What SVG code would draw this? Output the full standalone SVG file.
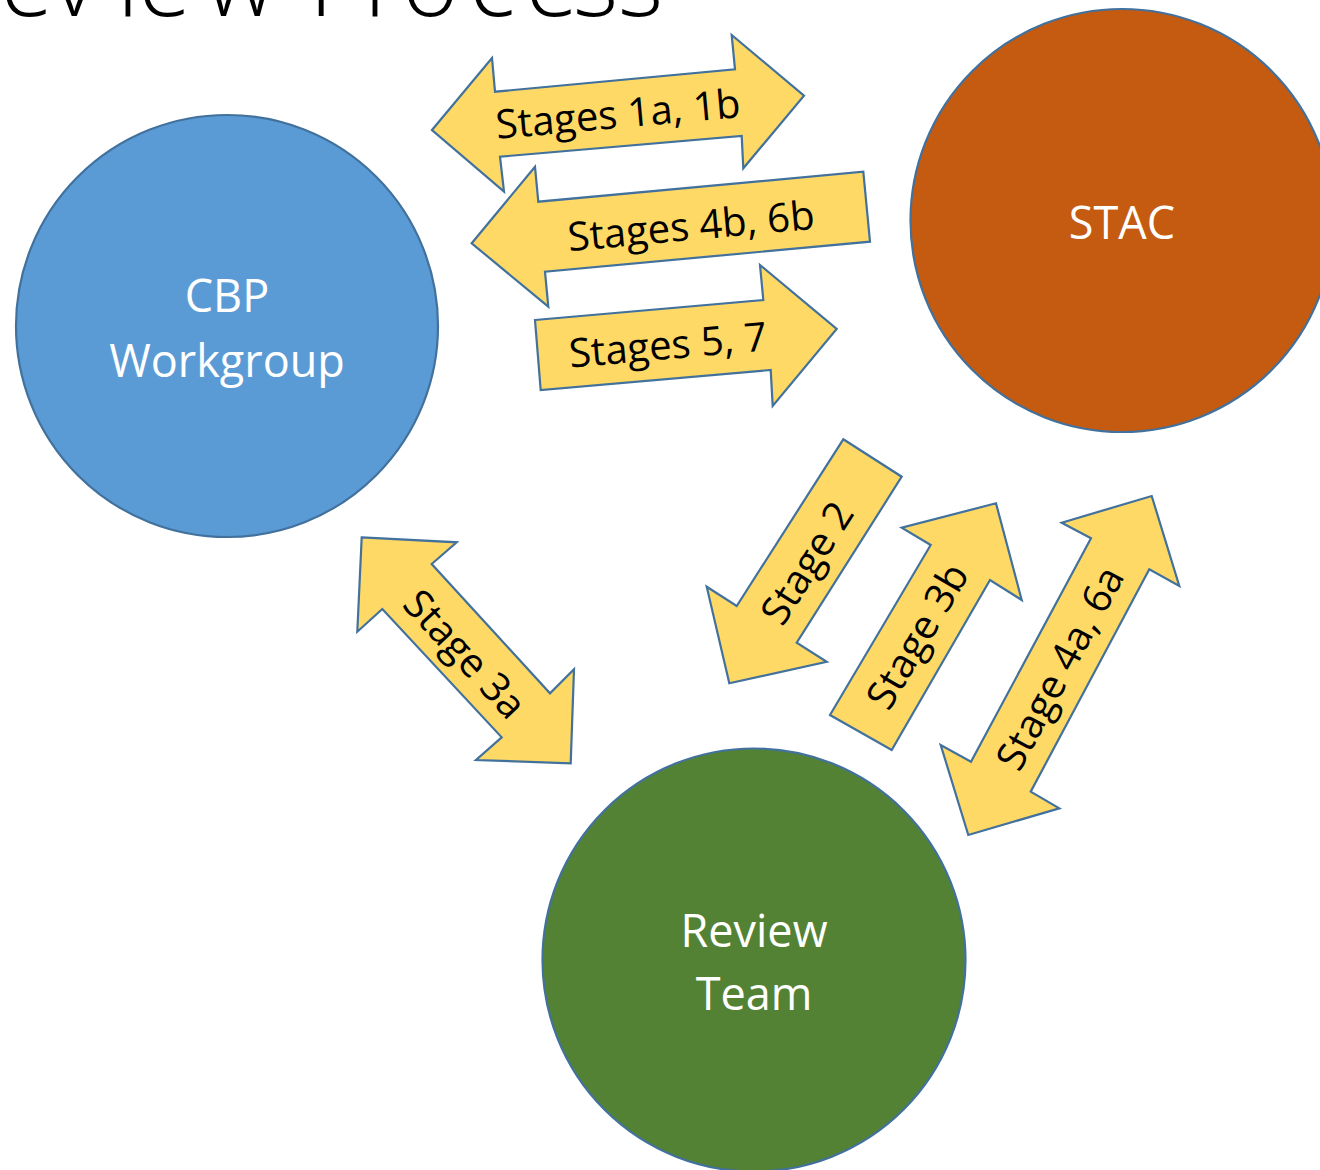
<svg xmlns="http://www.w3.org/2000/svg" width="1320" height="1170" viewBox="0 0 1320 1170">
  <style>
    .node { stroke: #41719C; stroke-width: 2.2; }
    .arrow { fill: #FFD966; stroke: #41719C; stroke-width: 2.2; stroke-linejoin: miter; }
    .nlabel { font-family: "Open Sans", "Liberation Sans", sans-serif; font-size: 45px; fill: #FFFFFF; text-anchor: middle; }
    .alabel { font-family: "Open Sans", "Liberation Sans", sans-serif; font-size: 40px; fill: #000000; text-anchor: middle; }
    .title { font-family: "Open Sans", "Liberation Sans", sans-serif; font-weight: 300; font-size: 97px; fill: #000000; }
  </style>
  <rect width="1320" height="1170" fill="#FFFFFF"/>

  <text class="title" x="-61 0 52 117 138 205 270 309 364 402 469 525 573 618" y="16">Review Process</text>

  <g id="node-cbp">
    <circle class="node" cx="227" cy="326" r="211" fill="#5B9BD5"/>
    <text class="nlabel" x="227" y="312">CBP</text>
    <text class="nlabel" x="227" y="377">Workgroup</text>
  </g>

  <g id="node-stac">
    <circle class="node" cx="1122" cy="220.5" r="211.5" fill="#C55A11"/>
    <text class="nlabel" x="1122" y="239">STAC</text>
  </g>

  <g id="node-review">
    <circle class="node" cx="754" cy="960" r="211.5" fill="#548235"/>
    <text class="nlabel" x="754" y="947">Review</text>
    <text class="nlabel" x="754" y="1010">Team</text>
  </g>

  <g id="connectors">
    <g id="arrow-stages-1a-1b">
      <polygon class="arrow" points="432,130 492,58 495,91.7 735,69.3 731.7,35 804,95.7 743.3,168.3 741.7,136 500,156.7 504,191.7"/>
      <text class="alabel" transform="translate(618,114) rotate(-5.1)" x="0" y="14">Stages 1a, 1b</text>
    </g>
    <g id="arrow-stages-4b-6b">
      <polygon class="arrow" points="471.7,243.3 535,166.7 538.3,201.7 863.3,171.7 870,241.7 545,271.7 548.3,306.7"/>
      <text class="alabel" transform="translate(691,226) rotate(-5.2)" x="0" y="14">Stages 4b, 6b</text>
    </g>
    <g id="arrow-stages-5-7">
      <polygon class="arrow" points="535,320 763.3,300 760,265 836.7,329 772.7,406 770.7,370 540.7,390"/>
      <text class="alabel" transform="translate(668,345) rotate(-5)" x="0" y="14">Stages 5, 7</text>
    </g>
    <g id="arrow-stage-2">
      <polygon class="arrow" points="843.3,439.3 901.7,476.7 796.7,642.7 826.7,661.7 729.3,683.3 706.7,586.7 736.7,606"/>
      <text class="alabel" transform="translate(807,563) rotate(-57.6)" x="0" y="14">Stage 2</text>
    </g>
    <g id="arrow-stage-3b">
      <polygon class="arrow" points="996,503.3 1021.7,600 990,580 891.7,750 830,715 930.7,545 901.7,527.7"/>
      <text class="alabel" transform="translate(917.5,636) rotate(-59.5)" x="0" y="14">Stage 3b</text>
    </g>
    <g id="arrow-stage-4a-6a">
      <polygon class="arrow" points="1151.7,496 1179.3,586 1149.3,569.3 1030.7,791.7 1059.3,808.3 968.3,835 940.7,745 971,761.7 1091,538.3 1061.7,522.7"/>
      <text class="alabel" transform="translate(1060,668) rotate(-61.7)" x="0" y="14">Stage 4a, 6a</text>
    </g>
    <g id="arrow-stage-3a">
      <polygon class="arrow" points="361.7,537.3 456.7,542.3 431.7,564 550,693.3 574,669.3 570.7,763.3 476,760 501.7,737.3 382.3,609 357.3,631.7"/>
      <text class="alabel" transform="translate(465,654) rotate(47.3)" x="0" y="14">Stage 3a</text>
    </g>
  </g>
</svg>
